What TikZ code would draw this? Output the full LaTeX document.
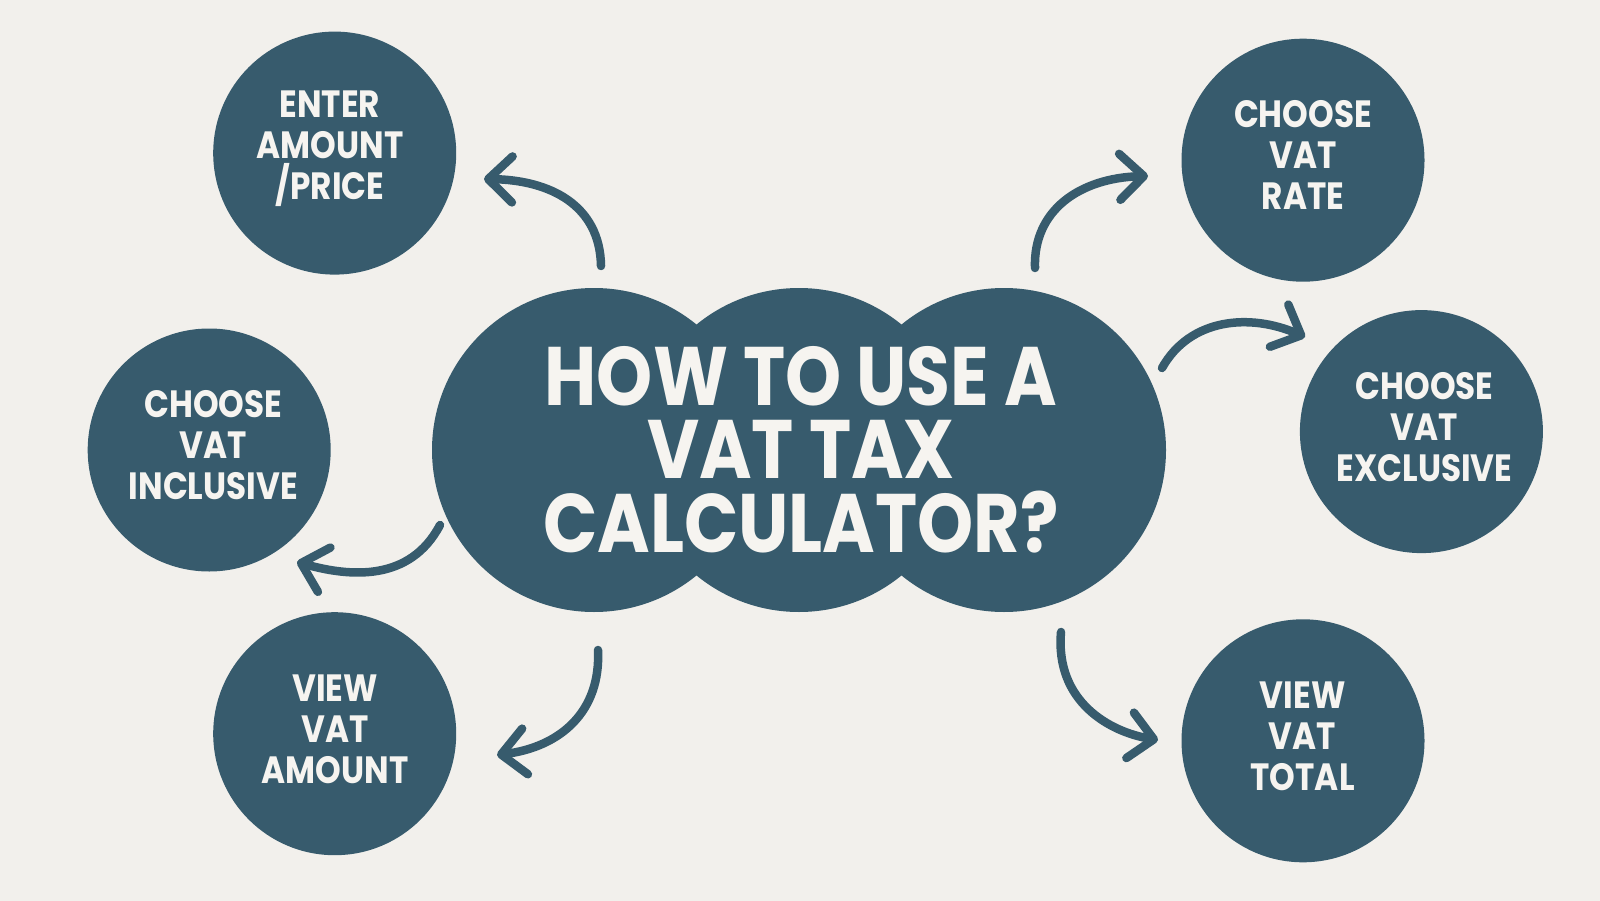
\documentclass[tikz,border=0pt]{standalone}
\usepackage{fontspec}
\usetikzlibrary{arrows.meta}
\newfontfamily\pop{Poppins}[FakeStretch=0.86]
\definecolor{bgc}{HTML}{F2F0EC}
\definecolor{teal}{HTML}{375B6D}
\definecolor{txt}{HTML}{F6F4F0}
\tikzset{
  bubble/.style={circle, fill=teal, minimum size=243pt, inner sep=0pt},
  cloudpart/.style={circle, fill=teal, minimum size=324pt, inner sep=0pt},
  smalltext/.style={text=txt, align=center, inner sep=0pt, font=\pop\bfseries\fontsize{38}{41}\selectfont},
  bigtext/.style={text=txt, align=center, inner sep=0pt, font=\pop\bfseries\fontsize{83}{73.5}\selectfont},
  arr/.style={draw=teal, line width=8.5pt, line cap=round, line join=round,
    -{Straight Barb[length=24pt, width=46pt, line width=8.5pt, round]}}
}
\begin{document}
\begin{tikzpicture}[x=1pt,y=-1pt]
\fill[bgc] (0,0) rectangle (1600,901);
\useasboundingbox (0,0) rectangle (1600,901);

% central cloud
\node[cloudpart] (cloudL) at (594,450) {};
\node[cloudpart] (cloudM) at (799,450) {};
\node[cloudpart] (cloudR) at (1004,450) {};
\node[bigtext] (title) at (801,449.5) {HOW TO USE A\\VAT TAX\\CALCULATOR?};

% satellite circles
\node[bubble] (enter) at (334.7,153.1) {};
\node[smalltext] (entert) at (330,149) {ENTER\\AMOUNT\\/PRICE};
\node[bubble] (rate) at (1303,160.2) {};
\node[smalltext] (ratet) at (1303,154.6) {CHOOSE\\VAT\\RATE};
\node[bubble] (incl) at (209.2,450) {};
\node[smalltext] (inclt) at (213.3,445.4) {CHOOSE\\VAT\\INCLUSIVE};
\node[bubble] (excl) at (1421.4,431.6) {};
\node[smalltext] (exclt) at (1424.5,427) {CHOOSE\\VAT\\EXCLUSIVE};
\node[bubble] (amount) at (334.7,733.7) {};
\node[smalltext] (amountt) at (335,729) {VIEW\\VAT\\AMOUNT};
\node[bubble] (total) at (1303,740.8) {};
\node[smalltext] (totalt) at (1302.6,736) {VIEW\\VAT\\TOTAL};

% arrow end points
\coordinate (s1) at (601,266);  \coordinate (e1) at (484,179);
\coordinate (s2) at (1035,268); \coordinate (e2) at (1148,176);
\coordinate (s3) at (1162,368); \coordinate (e3) at (1305,337);
\coordinate (s4) at (440,525);  \coordinate (e4) at (297,562);
\coordinate (s5) at (598,650);  \coordinate (e5) at (497,755);
\coordinate (s6) at (1061,632); \coordinate (e6) at (1158,740);

\draw[arr] (s1) .. controls (600,205) and (550,180) .. (e1);
\draw[arr] (s2) .. controls (1033,210) and (1080,178) .. (e2);
\draw[arr] (s3) .. controls (1190,318) and (1250,313) .. (e3);
\draw[arr] (s4) .. controls (410,582) and (350,577) .. (e4);
\draw[arr] (s5) .. controls (601,712) and (560,747) .. (e5);
\draw[arr] (s6) .. controls (1055,702) and (1110,732) .. (e6);
\end{tikzpicture}
\end{document}
